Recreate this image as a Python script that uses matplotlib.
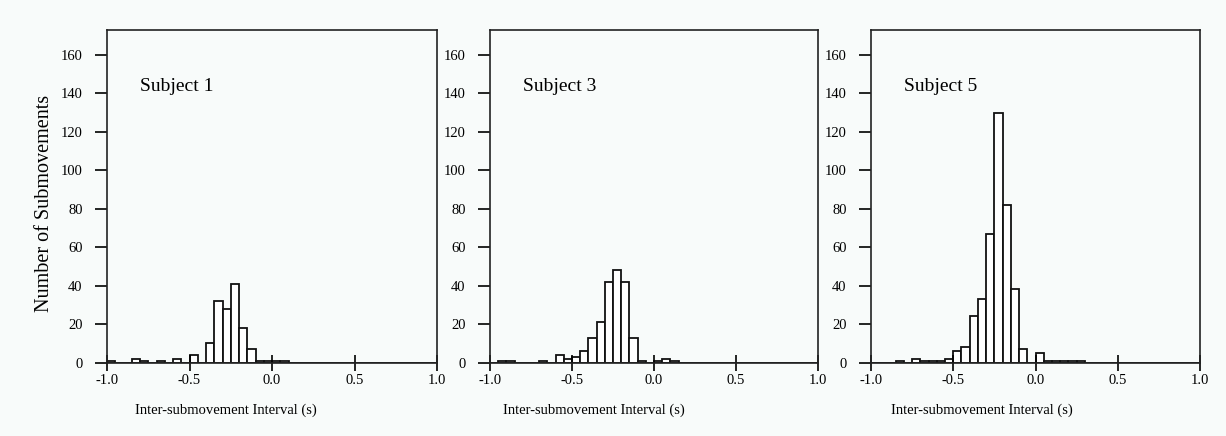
import numpy as np
import matplotlib
matplotlib.use("Agg")
import matplotlib.pyplot as plt

plt.rcParams['font.family'] = ['Liberation Serif', 'DejaVu Serif']
plt.rcParams['axes.unicode_minus'] = False

# ---- data ----
bin_start = -1.0
bin_width = 0.05
n_bins = 40

subject1_counts = [1, 0, 0, 2, 1, 0, 1, 0, 2, 0,
                   4, 0, 10, 32, 28, 41, 18, 7, 1, 1,
                   1, 1, 0, 0, 0, 0, 0, 0, 0, 0,
                   0, 0, 0, 0, 0, 0, 0, 0, 0, 0]
subject3_counts = [0, 1, 1, 0, 0, 0, 1, 0, 4, 2,
                   3, 6, 13, 21, 42, 48, 42, 13, 1, 0,
                   1, 2, 1, 0, 0, 0, 0, 0, 0, 0,
                   0, 0, 0, 0, 0, 0, 0, 0, 0, 0]
subject5_counts = [0, 0, 0, 1, 0, 2, 1, 1, 1, 2,
                   6, 8, 24, 33, 67, 130, 82, 38, 7, 0,
                   5, 1, 1, 1, 1, 1, 0, 0, 0, 0,
                   0, 0, 0, 0, 0, 0, 0, 0, 0, 0]

panel_titles = ["Subject 1", "Subject 3", "Subject 5"]
panel_counts = [subject1_counts, subject3_counts, subject5_counts]
x_ticks = [-1.0, -0.5, 0.0, 0.5, 1.0]
x_tick_labels = ["-1.0", "-0.5", "0.0", "0.5", "1.0"]
y_ticks = [0, 20, 40, 60, 80, 100, 120, 140, 160]
x_label = "Inter-submovement Interval (s)"
y_label = "Number of Submovements"

# ---- figure ----
W, H = 1226, 436
bg = '#f8fbfa'
fig = plt.figure(figsize=(W / 100, H / 100), dpi=100, facecolor=bg)

left_px = [107, 490, 871]
width_px = [330, 328, 329]
bottom_px = 362.5
top_px = 30
xlabel_centers = [226, 594, 982]

edges = bin_start + bin_width * np.arange(n_bins + 1)

for i in range(3):
    ax = fig.add_axes([left_px[i] / W, (H - bottom_px) / H,
                       width_px[i] / W, (bottom_px - top_px) / H])
    ax.set_facecolor(bg)
    ax.bar(edges[:-1], panel_counts[i], width=bin_width, align='edge',
           facecolor='white', edgecolor='#111111', linewidth=1.3)
    ax.set_xlim(-1.0, 1.0)
    ax.set_ylim(0, 173)
    ax.set_xticks(x_ticks)
    ax.set_xticklabels(x_tick_labels)
    ax.set_yticks(y_ticks)
    ax.tick_params(axis='y', direction='out', length=8.5, width=1.2,
                   labelsize=10.5, pad=9)
    ax.tick_params(axis='x', direction='inout', length=12, width=1.2,
                   labelsize=10.5, pad=2)
    for s in ax.spines.values():
        s.set_linewidth(1.2)
        s.set_color('#222222')
    ax.text(0.1, 0.83, panel_titles[i], transform=ax.transAxes,
            fontsize=14, ha='left', va='center')
    fig.text(xlabel_centers[i] / W, 1 - 410 / H, x_label,
             ha='center', va='center', fontsize=10.5)

fig.text(45 / W, 1 - 203 / H, y_label, rotation=90,
         ha='center', va='center', fontsize=14.5)

fig.savefig('out.png', dpi=100, facecolor=bg)
